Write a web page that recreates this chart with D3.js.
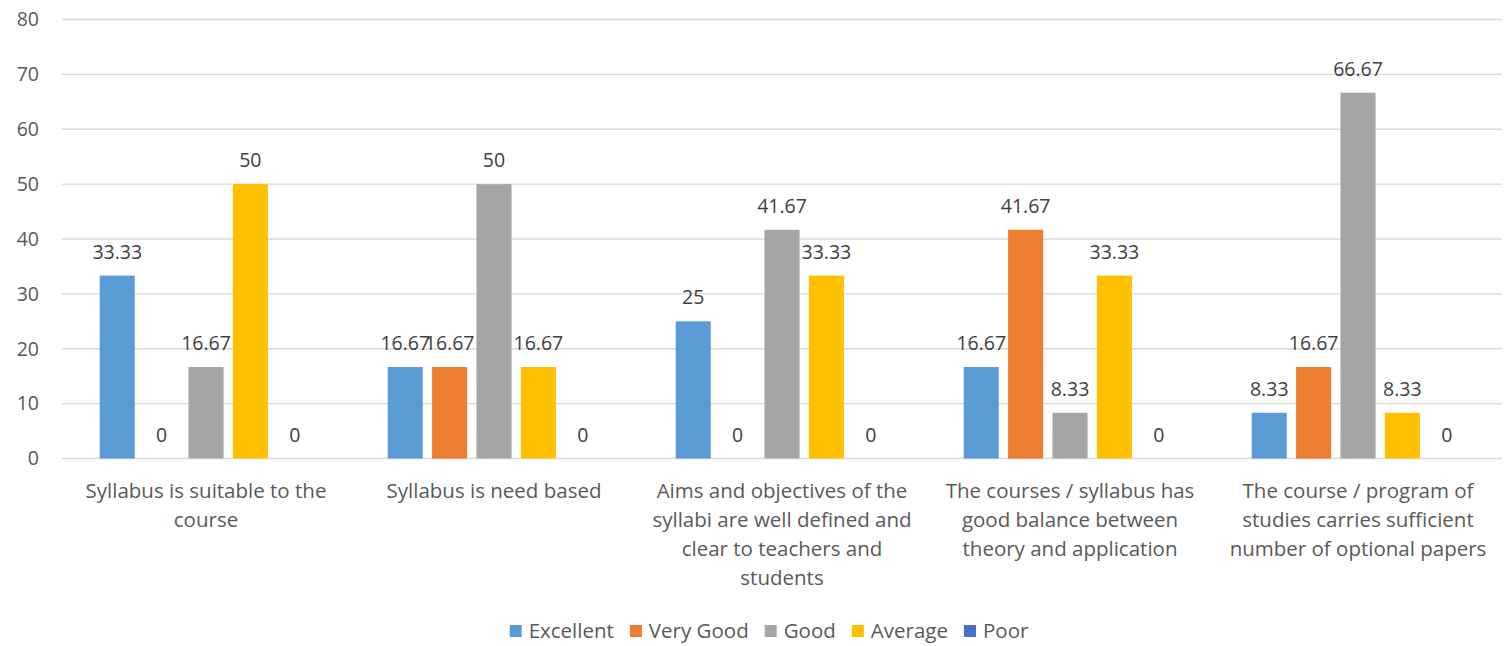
<!DOCTYPE html>
<html>
<head>
<meta charset="utf-8">
<script src="https://cdn.jsdelivr.net/npm/d3@7"></script>
<style>
  body { margin: 0; background: #fff; }
  text { font-family: "Open Sans", Lato, sans-serif; }
</style>
</head>
<body>
<div id="chart"></div>
<script>
// categories (line breaks as in the original chart)
var categories = [
  "Syllabus is suitable to the\ncourse",
  "Syllabus is need based",
  "Aims and objectives of the\nsyllabi are well defined and\nclear to teachers and\nstudents",
  "The courses / syllabus has\ngood balance between\ntheory and application",
  "The course / program of\nstudies carries sufficient\nnumber of optional papers"
];
var seriesNames = ["Excellent", "Very Good", "Good", "Average", "Poor"];
var seriesColors = ["#5B9BD5", "#ED7D31", "#A5A5A5", "#FFC000", "#4472C4"];
var excellent = [33.33, 16.67, 25, 16.67, 8.33];
var veryGood = [0, 16.67, 0, 41.67, 16.67];
var good = [16.67, 50, 41.67, 8.33, 66.67];
var average = [50, 16.67, 33.33, 33.33, 8.33];
var poor = [0, 0, 0, 0, 0];
var yTicks = [0, 10, 20, 30, 40, 50, 60, 70, 80];

var seriesValues = [excellent, veryGood, good, average, poor];

var width = 1506, height = 646;
var margin = {top: 19.5, right: 4, bottom: 187.5, left: 62};
var fontSize = "20.5px";

var svg = d3.select("#chart").append("svg")
    .attr("width", width)
    .attr("height", height);

var y = d3.scaleLinear()
    .domain([0, 80])
    .range([height - margin.bottom, margin.top]);

var x0 = d3.scaleBand()
    .domain(d3.range(categories.length))
    .range([margin.left, width - margin.right])
    .padding(0);

var x1 = d3.scaleBand()
    .domain(d3.range(seriesNames.length))
    .range([0, x0.bandwidth()])
    .paddingInner(0.21)
    .paddingOuter(0.85);

// gridlines
svg.append("g")
  .selectAll("line")
  .data(yTicks)
  .enter().append("line")
    .attr("x1", margin.left)
    .attr("x2", width - margin.right)
    .attr("y1", function(d) { return y(d); })
    .attr("y2", function(d) { return y(d); })
    .attr("stroke", "#d9d9d9")
    .attr("stroke-width", 1.3);

// y axis labels
var yAxis = d3.axisLeft(y).tickValues(yTicks).tickSize(0).tickPadding(0);
svg.append("g")
    .attr("transform", "translate(39,0)")
    .call(yAxis)
    .call(function(g) { g.select(".domain").remove(); })
    .selectAll("text")
      .style("font-family", "'Open Sans', Lato, sans-serif")
      .style("font-size", "19.5px")
      .attr("fill", "#595959");

// bars
var flat = [];
categories.forEach(function(c, i) {
  seriesValues.forEach(function(vals, s) {
    flat.push({cat: i, s: s, v: vals[i]});
  });
});

svg.append("g")
  .selectAll("rect")
  .data(flat)
  .enter().append("rect")
    .attr("x", function(d) { return x0(d.cat) + x1(d.s); })
    .attr("y", function(d) { return y(d.v); })
    .attr("width", x1.bandwidth())
    .attr("height", function(d) { return y(0) - y(d.v); })
    .attr("fill", function(d) { return seriesColors[d.s]; });

// data labels
svg.append("g")
  .selectAll("text")
  .data(flat)
  .enter().append("text")
    .attr("x", function(d) { return x0(d.cat) + x1(d.s) + x1.bandwidth() / 2; })
    .attr("y", function(d) { return y(d.v) - 17; })
    .attr("text-anchor", "middle")
    .style("font-size", "19.5px")
    .attr("fill", "#404040")
    .text(function(d) { return d.v; });

// category labels
var catG = svg.append("g")
  .selectAll("text")
  .data(categories)
  .enter().append("text")
    .attr("text-anchor", "middle")
    .attr("x", function(d, i) { return x0(i) + x0.bandwidth() / 2; })
    .attr("y", 498)
    .style("font-size", fontSize)
    .attr("fill", "#595959");

catG.selectAll("tspan")
  .data(function(d) { return d.split("\n"); })
  .enter().append("tspan")
    .attr("x", function() { return d3.select(this.parentNode).attr("x"); })
    .attr("dy", function(d, i) { return i === 0 ? 0 : 29; })
    .text(function(d) { return d; });

// legend, laid out from measured text widths and centred
var legend = svg.append("g");
var items = legend.selectAll("g")
  .data(seriesNames)
  .enter().append("g");

items.append("rect")
    .attr("y", -6)
    .attr("width", 12)
    .attr("height", 12)
    .attr("fill", function(d, i) { return seriesColors[i]; });

items.append("text")
    .attr("x", 19)
    .attr("y", 7)
    .style("font-size", fontSize)
    .attr("fill", "#595959")
    .text(function(d) { return d; });

var pos = 0;
items.each(function() {
  var w = 19 + d3.select(this).select("text").node().getComputedTextLength();
  d3.select(this).attr("transform", "translate(" + pos + ",0)");
  pos += w + 16;
});
legend.attr("transform", "translate(" + (769 - (pos - 16) / 2) + ",631)");
</script>
</body>
</html>
